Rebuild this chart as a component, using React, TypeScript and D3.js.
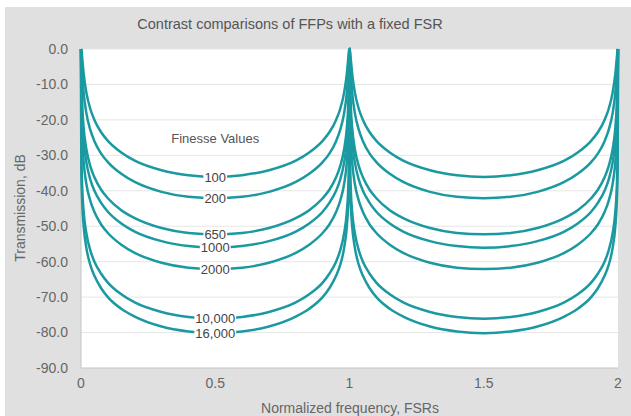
import React, { useRef, useEffect } from "react";
import * as d3 from "d3";

// frequency samples over the first half FSR (curves are symmetric and periodic)
const xSamples = [0, 0.001, 0.002, 0.005, 0.01, 0.02, 0.035, 0.05, 0.075, 0.1, 0.15, 0.2, 0.3, 0.4, 0.5];

// transmission (dB) for each finesse value
const f100 = [0, -0.2, -0.6, -3.0, -7.0, -12.3, -17.0, -20.0, -23.5, -25.9, -29.2, -31.5, -34.2, -35.6, -36.1];
const f200 = [0, -0.6, -2.1, -7.0, -12.3, -18.1, -22.9, -26.0, -29.5, -31.9, -35.2, -37.5, -40.3, -41.7, -42.1];
const f650 = [0, -4.3, -8.9, -16.4, -22.3, -28.3, -33.1, -36.2, -39.7, -42.1, -45.5, -47.7, -50.5, -51.9, -52.3];
const f1000 = [0, -7.0, -12.3, -20.0, -26.0, -32.0, -36.9, -40.0, -43.4, -45.9, -49.2, -51.5, -54.2, -55.6, -56.1];
const f2000 = [0, -12.3, -18.1, -26.0, -32.0, -38.1, -42.9, -46.0, -49.5, -51.9, -55.2, -57.5, -60.3, -61.7, -62.1];
const f10000 = [0, -26.0, -32.0, -40.0, -46.0, -52.0, -56.9, -60.0, -63.4, -65.9, -69.2, -71.5, -74.2, -75.6, -76.1];
const f16000 = [0, -30.1, -36.1, -44.1, -50.1, -56.1, -61.0, -64.0, -67.5, -70.0, -73.3, -75.5, -78.3, -79.7, -80.2];

const finesseLabels = ["100", "200", "650", "1000", "2000", "10,000", "16,000"];
const seriesValues = [f100, f200, f650, f1000, f2000, f10000, f16000];

const yTicks = [0, -10, -20, -30, -40, -50, -60, -70, -80, -90];
const xTicks = [0, 0.5, 1, 1.5, 2];

const FONT = "'Liberation Sans', Arial, sans-serif";
const TEAL = "#1a9aa0";

// unfold half-period samples into the full 0..2 range
function unfold(values) {
  const pts = [];
  [0, 1].forEach(p => {
    xSamples.forEach((x, i) => pts.push([p + x, values[i]]));
    for (let i = xSamples.length - 2; i >= 0; i--) pts.push([p + 1 - xSamples[i], values[i]]);
  });
  return pts;
}

function App() {
  const svgRef = useRef(null);

  useEffect(() => {
    const svg = d3.select(svgRef.current);
    svg.selectAll("*").remove();

    const x = d3.scaleLinear().domain([0, 2]).range([81, 618]);
    const y = d3.scaleLinear().domain([-90, 0]).range([368, 49]);

    // panel background
    svg.append("rect").attr("x", 5).attr("y", 7).attr("width", 626).attr("height", 409).attr("fill", "#e0e0e0");
    svg.append("rect")
      .attr("x", x(0)).attr("y", y(0))
      .attr("width", x(2) - x(0)).attr("height", y(-90) - y(0))
      .attr("fill", "#fff");

    // gridlines
    svg.selectAll(".grid")
      .data(yTicks.filter(t => t !== -90))
      .join("line")
      .attr("class", "grid")
      .attr("x1", x(0)).attr("x2", x(2))
      .attr("y1", d => y(d)).attr("y2", d => y(d))
      .attr("stroke", "#e6e6e6").attr("stroke-width", 1);

    // axes lines
    svg.append("line").attr("x1", x(0)).attr("x2", x(0)).attr("y1", y(0)).attr("y2", y(-90))
      .attr("stroke", "#c4c4c4").attr("stroke-width", 1);
    svg.append("line").attr("x1", x(0)).attr("x2", x(2)).attr("y1", y(-90)).attr("y2", y(-90))
      .attr("stroke", "#c4c4c4").attr("stroke-width", 1);

    // tick labels
    svg.selectAll(".ytick")
      .data(yTicks)
      .join("text")
      .attr("class", "ytick")
      .attr("x", 68).attr("y", d => y(d))
      .attr("dy", "0.35em")
      .attr("text-anchor", "end")
      .attr("font-family", FONT).attr("font-size", 14).attr("fill", "#666")
      .text(d => d.toFixed(1));

    svg.selectAll(".xtick")
      .data(xTicks)
      .join("text")
      .attr("class", "xtick")
      .attr("x", d => x(d)).attr("y", 388)
      .attr("text-anchor", "middle")
      .attr("font-family", FONT).attr("font-size", 14).attr("fill", "#666")
      .text(d => `${d}`);

    // titles
    svg.append("text").attr("x", 290).attr("y", 29).attr("text-anchor", "middle")
      .attr("font-family", FONT).attr("font-size", 14.5).attr("fill", "#555")
      .text("Contrast comparisons of FFPs with a fixed FSR");
    svg.append("text").attr("x", 350).attr("y", 413).attr("text-anchor", "middle")
      .attr("font-family", FONT).attr("font-size", 14).attr("fill", "#666")
      .text("Normalized frequency, FSRs");
    svg.append("text").attr("transform", "translate(25,208) rotate(-90)").attr("text-anchor", "middle")
      .attr("font-family", FONT).attr("font-size", 14).attr("fill", "#666")
      .text("Transmission, dB");

    // curves
    const line = d3.line().x(d => x(d[0])).y(d => y(d[1])).curve(d3.curveMonotoneX);
    svg.selectAll(".curve")
      .data(seriesValues)
      .join("path")
      .attr("class", "curve")
      .attr("d", v => line(unfold(v)))
      .attr("fill", "none")
      .attr("stroke", TEAL).attr("stroke-width", 2.5);

    // curve labels with white knockouts
    svg.append("text").attr("x", x(0.5)).attr("y", 138).attr("dy", "0.35em").attr("text-anchor", "middle")
      .attr("font-family", FONT).attr("font-size", 13).attr("fill", "#555")
      .text("Finesse Values");

    seriesValues.forEach((v, i) => {
      const g = svg.append("g");
      const t = g.append("text")
        .attr("x", x(0.5)).attr("y", y(v[v.length - 1]))
        .attr("dy", "0.35em").attr("text-anchor", "middle")
        .attr("font-family", FONT).attr("font-size", 13).attr("fill", "#444")
        .text(finesseLabels[i]);
      const bb = t.node().getBBox();
      g.insert("rect", "text")
        .attr("x", bb.x - 1).attr("y", bb.y + 1)
        .attr("width", bb.width + 2).attr("height", bb.height - 2)
        .attr("fill", "#fff");
    });
  }, []);

  return (
    <svg ref={svgRef} width={631} height={416} style={{ position: "absolute", left: 0, top: 0 }}></svg>
  );
}

export default App;
